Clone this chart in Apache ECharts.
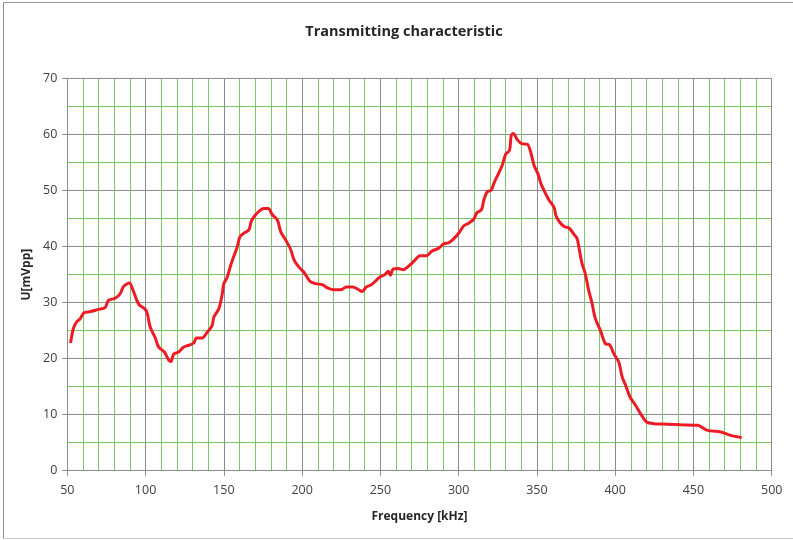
<!DOCTYPE html>
<html>
<head>
<meta charset="utf-8">
<script src="https://cdn.jsdelivr.net/npm/echarts@6/dist/echarts.min.js"></script>
<style>
html,body{margin:0;padding:0;background:#fff;}
#chart{width:793px;height:540px;}
</style>
</head>
<body>
<div id="chart"></div>
<script>
var freq = [52.1,53.8,56,58.1,60.7,64.5,69.9,74.1,76.3,80.6,83.8,85.9,89.7,91.9,95.5,100.4,103,106.2,108.3,112,114.7,116.2,117.9,121.1,124.4,127.6,130.8,132.5,136.1,139.3,142.5,143.6,146.8,149,150,152.1,154.3,156.4,158.5,160.3,162.8,166,167.5,169.2,172.4,175.6,178.4,181,184.2,186.3,189.5,192.7,194.9,198.1,201.3,205.1,208.8,213,216.5,220.7,224.9,228.2,232.4,235.7,238.4,241,244.2,247.4,249.6,252.8,255,256.4,258.1,261.3,264.6,268.8,272.1,275.3,279.6,282.8,287.1,290.4,293.6,296.8,300,303.2,306.4,309.6,311.8,314.6,316.1,318.2,320.8,322.5,325.7,327.8,330,332.5,333.6,334.9,337.5,340.2,343.9,346,348.2,350.7,352.4,355,357.8,361,362.1,364.2,367.4,370.7,373.9,375.6,377.1,378.8,380.9,383,385.2,387.3,390.5,393.7,396.5,399.1,402.3,404.5,406.6,409.4,413,416.2,420.1,424.8,433.3,441.9,452.6,459,467.5,473.9,480.8];
var voltage = [22.8,25.3,26.6,27.1,28.2,28.4,28.8,29.1,30.4,30.8,31.6,32.9,33.5,32.3,29.8,28.6,25.6,23.7,22.1,21.2,19.8,19.5,20.8,21.2,22.1,22.4,22.8,23.7,23.7,24.7,25.9,27.4,28.9,31.6,33.4,34.5,36.6,38.3,39.9,41.8,42.4,43,44.5,45.3,46.3,46.8,46.8,45.7,44.8,42.7,41.2,39.5,37.6,36.3,35.4,33.8,33.4,33.2,32.6,32.3,32.3,32.8,32.8,32.4,32.0,32.8,33.2,34.0,34.6,35.0,35.6,34.9,36.0,36.1,35.9,36.7,37.6,38.4,38.4,39.2,39.7,40.5,40.7,41.4,42.4,43.7,44.2,44.9,46.1,46.6,48.3,49.8,50.1,51.3,53.2,54.5,56.5,57.2,59.9,60.2,59.1,58.4,58.3,56.9,54.5,53.0,51.4,49.8,48.3,47.0,45.6,44.5,43.6,43.3,42.1,41.5,39.5,37.0,35.2,32.3,29.9,27.2,25.1,22.7,22.5,20.9,19.4,16.7,15.3,13.2,11.7,10.2,8.7,8.4,8.3,8.2,8.1,7.2,6.9,6.3,5.9];
var xRange = [50, 500];
var yRange = [0, 70];
var titleText = 'Transmitting characteristic';
var xName = 'Frequency [kHz]';
var yName = 'U[mVpp]';

var points = freq.map(function (f, i) { return [f, voltage[i]]; });
var FONT = '"Open Sans", sans-serif';
var GRAY = '#8c8c8c';
var GREEN = '#7cc763';

var chart = echarts.init(document.getElementById('chart'), null, {renderer: 'canvas'});
chart.setOption({
  animation: false,
  backgroundColor: '#fff',
  title: {
    text: titleText,
    left: 399, top: 19, textAlign: 'center',
    textStyle: {fontFamily: FONT, fontWeight: 'bold', fontSize: 14.5, color: '#262626'}
  },
  grid: {left: 67.3, right: 21.3, top: 78.7, bottom: 69.3, containLabel: false},
  xAxis: {
    type: 'value', min: xRange[0], max: xRange[1], interval: 50,
    name: xName, nameLocation: 'middle', nameGap: 40,
    nameTextStyle: {fontFamily: FONT, fontWeight: 'bold', fontSize: 12, color: '#262626'},
    axisLine: {show: true, lineStyle: {color: GRAY, width: 1}},
    axisTick: {show: true, length: 5, lineStyle: {color: GRAY}},
    axisLabel: {margin: 13, fontFamily: FONT, fontSize: 12.5, color: '#404040'},
    splitLine: {show: true, lineStyle: {color: GRAY, width: 1}},
    minorTick: {show: false, splitNumber: 5},
    minorSplitLine: {show: true, lineStyle: {color: GREEN, width: 1}}
  },
  yAxis: {
    type: 'value', min: yRange[0], max: yRange[1], interval: 10,
    name: yName, nameLocation: 'middle', nameGap: 33, nameRotate: 90,
    nameTextStyle: {fontFamily: FONT, fontWeight: 'bold', fontSize: 12, color: '#262626'},
    axisLine: {show: true, lineStyle: {color: GRAY, width: 1}},
    axisTick: {show: true, length: 5, lineStyle: {color: GRAY}},
    axisLabel: {margin: 10, fontFamily: FONT, fontSize: 12.5, color: '#404040'},
    splitLine: {show: true, lineStyle: {color: GRAY, width: 1}},
    minorTick: {show: false, splitNumber: 2},
    minorSplitLine: {show: true, lineStyle: {color: GREEN, width: 1}}
  },
  graphic: [
    {type: 'line', shape: {x1: 3.5, y1: 2, x2: 3.5, y2: 538}, style: {stroke: '#8f8f8f', lineWidth: 1}},
    {type: 'line', shape: {x1: 3, y1: 2.5, x2: 793, y2: 2.5}, style: {stroke: '#9a9a9a', lineWidth: 1}},
    {type: 'line', shape: {x1: 3, y1: 538.5, x2: 793, y2: 538.5}, style: {stroke: '#c8c8c8', lineWidth: 1}}
  ],
  series: [{
    type: 'line',
    data: points,
    showSymbol: false,
    smooth: 0.3,
    lineStyle: {color: '#ed1c24', width: 3},
    z: 5
  }]
});
</script>
</body>
</html>
